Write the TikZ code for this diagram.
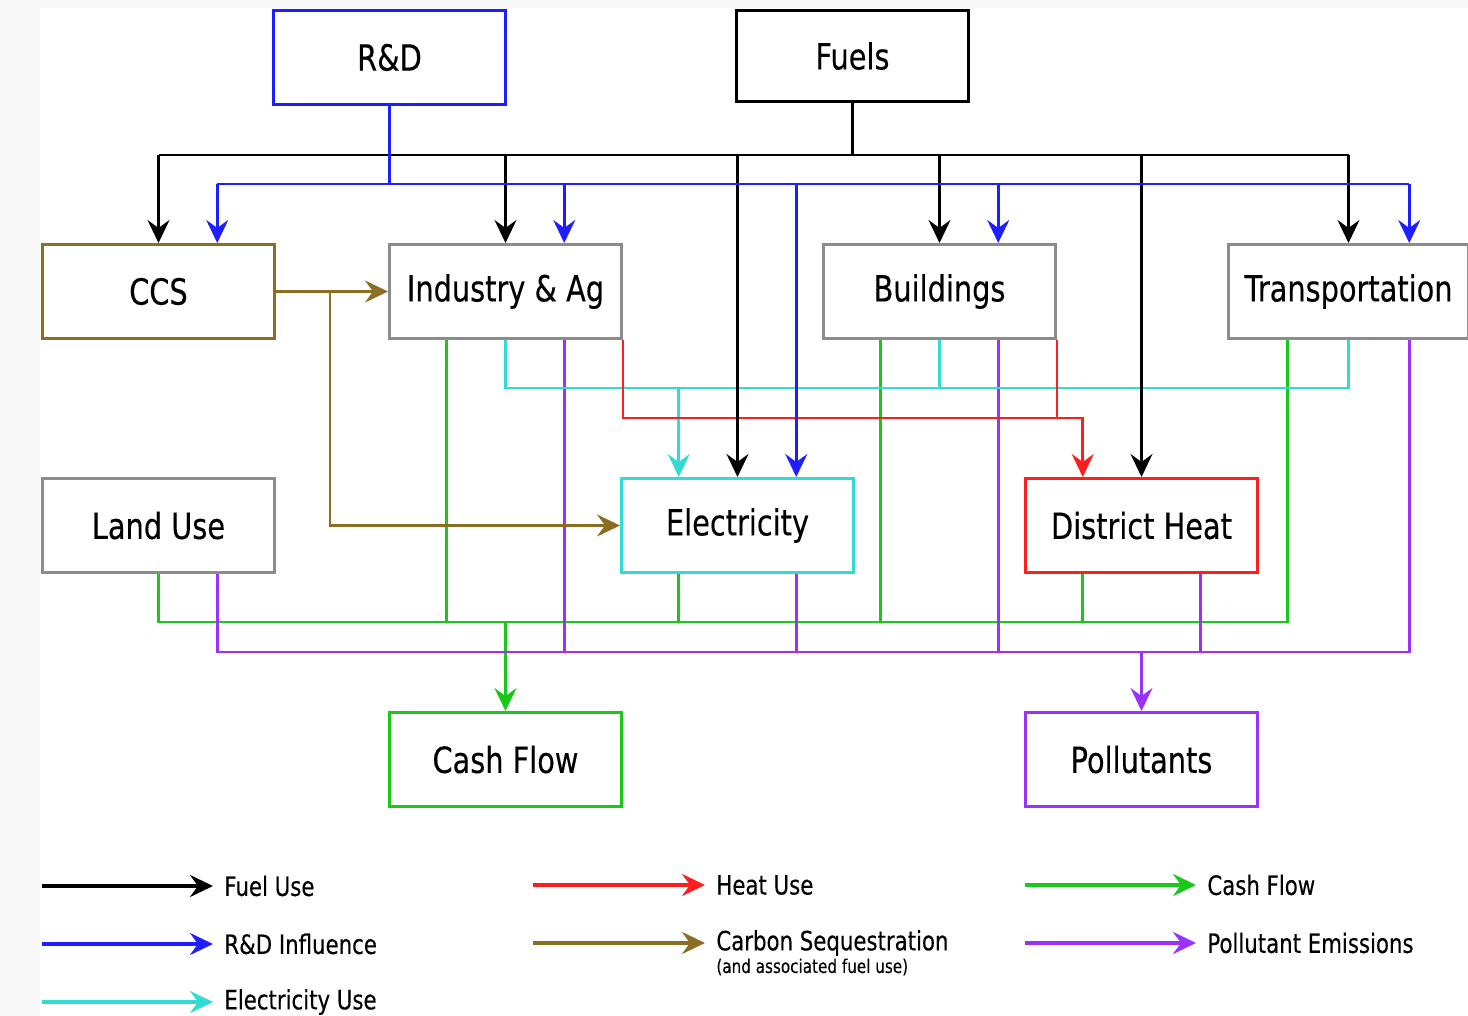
\documentclass[tikz,border=0pt]{standalone}
\usepackage{fontspec}
\setmainfont{DejaVu Sans}[FakeStretch=0.8,FakeBold=0.3]
\usetikzlibrary{arrows.meta,calc}
\definecolor{rdblue}{RGB}{30,30,255}
\definecolor{elcyan}{RGB}{50,220,210}
\definecolor{heatred}{RGB}{255,30,30}
\definecolor{ccsbrown}{RGB}{140,110,35}
\definecolor{cashgreen}{RGB}{25,200,25}
\definecolor{polpurple}{RGB}{155,50,250}
\definecolor{boxgray}{RGB}{140,140,140}
\definecolor{bggray}{RGB}{248,248,248}
\begin{document}
\begin{tikzpicture}[x=0.5pt,y=-0.5pt,
  box/.style={draw, line width=1.5pt, minimum width=116pt, minimum height=47pt,
    inner sep=0pt, fill=white, text=black, anchor=north west,
    font=\fontsize{18}{21}\selectfont},
  link/.style={line width=1.3pt},
  tip/.style={-{Stealth[length=11.5pt,width=11pt,inset=4pt]}},
  fuel/.style={link, black},
  rdl/.style={link, rdblue},
  ell/.style={link, elcyan},
  heatl/.style={link, heatred},
  ccsl/.style={link, ccsbrown},
  cashl/.style={link, cashgreen},
  poll/.style={link, polpurple},
  legline/.style={line width=1.7pt},
  legtext/.style={anchor=west, inner xsep=5.5pt, inner ysep=0pt, text=black,
    font=\fontsize{13.3}{15}\selectfont},
]
\useasboundingbox (0,0) rectangle (1468,1016);
\fill[bggray] (0,0) rectangle (1468,1016);
\fill[white] (40,8) rectangle (1468,1016);

% boxes
\node[box, draw=rdblue] (rd) at (272,9) {R\&D};
\node[box, draw=black, minimum height=45.5pt] (fuels) at (735,9) {Fuels};
\node[box, draw=ccsbrown] (ccs) at (41,243) {CCS};
\node[box, draw=boxgray] (ind) at (388,243) {Industry \& Ag};
\node[box, draw=boxgray] (bld) at (822,243) {Buildings};
\node[box, draw=boxgray, minimum width=120pt] (trn) at (1227,243) {Transportation};
\node[box, draw=boxgray] (land) at (41,477) {Land Use};
\node[box, draw=elcyan] (elec) at (620,477) {Electricity};
\node[box, draw=heatred] (dh) at (1024,477) {District Heat};
\node[box, draw=cashgreen] (cash) at (388,711) {Cash Flow};
\node[box, draw=polpurple] (pol) at (1024,711) {Pollutants};

% bus levels
\coordinate (yfuel) at (0,155);
\coordinate (yrd) at (0,184);
\coordinate (yel) at (0,388);
\coordinate (yheat) at (0,418);
\coordinate (ycash) at (0,622);
\coordinate (ypol) at (0,652);
\coordinate (xbr) at (330,0);

% quarter points
\foreach \n in {ccs,ind,bld,trn,elec,dh,land}{
  \coordinate (\n-nr) at ($(\n.north)!.5!(\n.north east)$);
  \coordinate (\n-nl) at ($(\n.north)!.5!(\n.north west)$);
  \coordinate (\n-sr) at ($(\n.south)!.5!(\n.south east)$);
  \coordinate (\n-sl) at ($(\n.south)!.5!(\n.south west)$);
}

% green (cash flow)
\draw[cashl] (land.south) -- (land.south |- ycash) -- (trn-sl |- ycash) -- (trn-sl);
\foreach \n in {ind,elec,bld,dh}{ \draw[cashl] (\n-sl) -- (\n-sl |- ycash); }
\draw[cashl, tip] (cash.north |- ycash) -- (cash.north);

% purple (pollutants)
\draw[poll] (land-sr) -- (land-sr |- ypol) -- (trn-sr |- ypol) -- (trn-sr);
\foreach \n in {ind,elec,bld,dh}{ \draw[poll] (\n-sr) -- (\n-sr |- ypol); }
\draw[poll, tip] (pol.north |- ypol) -- (pol.north);

% cyan (electricity use)
\draw[ell] (ind.south) -- (ind.south |- yel) -- (trn.south |- yel) -- (trn.south);
\draw[ell] (bld.south) -- (bld.south |- yel);
\draw[ell, tip] (elec-nl |- yel) -- (elec-nl);

% red (heat use)
\draw[heatl, tip] (ind.south east) -- (ind.south east |- yheat) -- (dh-nl |- yheat) -- (dh-nl);
\draw[heatl] (bld.south east) -- (bld.south east |- yheat);

% brown (carbon sequestration)
\draw[ccsl, tip] (ccs.east) -- (ind.west);
\draw[ccsl, tip] (ccs.east -| xbr) -- (xbr |- elec.west) -- (elec.west);

% black (fuel use)
\draw[fuel] (fuels.south) -- (fuels.south |- yfuel);
\draw[fuel] (ccs.north |- yfuel) -- (trn.north |- yfuel);
\foreach \n in {ccs,ind,elec,bld,dh,trn}{ \draw[fuel, tip] (\n.north |- yfuel) -- (\n.north); }

% blue (R&D influence)
\draw[rdl] (rd.south) -- (rd.south |- yrd);
\draw[rdl] (ccs-nr |- yrd) -- (trn-nr |- yrd);
\foreach \n in {ccs,ind,elec,bld,trn}{ \draw[rdl, tip] (\n-nr |- yrd) -- (\n-nr); }

% legend
\coordinate (s1) at (42,886);
\coordinate (s2) at (42,944);
\coordinate (s3) at (42,1002);
\coordinate (s4) at (533,885);
\coordinate (s5) at (533,943);
\coordinate (s6) at (1025,885);
\coordinate (s7) at (1025,943);
\node[legtext] (t1) at (213,886) {Fuel Use};
\node[legtext] (t2) at (213,944) {R\&D Influence};
\node[legtext] (t3) at (213,1002) {Electricity Use};
\node[legtext] (t4) at (705,885) {Heat Use};
\node[legtext] (t5) at (705,943) {Carbon Sequestration};
\node[legtext, font=\fontsize{9.5}{11}\selectfont] (t5b) at (705,967) {(and associated fuel use)};
\node[legtext] (t6) at (1196,885) {Cash Flow};
\node[legtext] (t7) at (1196,943) {Pollutant Emissions};
\draw[legline, black, tip] (s1) -- (t1.west);
\draw[legline, rdblue, tip] (s2) -- (t2.west);
\draw[legline, elcyan, tip] (s3) -- (t3.west);
\draw[legline, heatred, tip] (s4) -- (t4.west);
\draw[legline, ccsbrown, tip] (s5) -- (t5.west);
\draw[legline, cashgreen, tip] (s6) -- (t6.west);
\draw[legline, polpurple, tip] (s7) -- (t7.west);
\end{tikzpicture}
\end{document}
